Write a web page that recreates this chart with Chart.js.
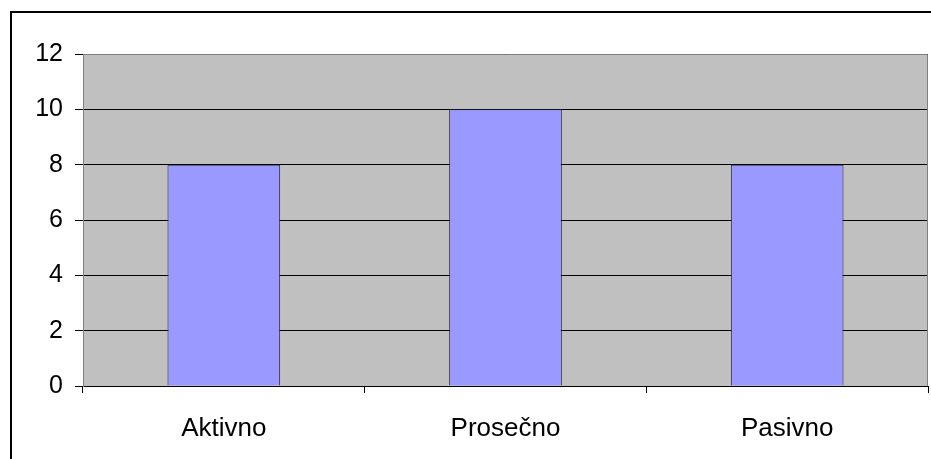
<!DOCTYPE html>
<html><head><meta charset="utf-8">
<script src="https://cdn.jsdelivr.net/npm/chart.js@4.4.0/dist/chart.umd.min.js"></script>
<style>html,body{margin:0;padding:0;background:#fff;}#wrap{width:931px;height:459px;position:relative;}</style>
</head><body><div id="wrap"><canvas id="c" width="931" height="459"></canvas></div>
<script>
const categories = ["Aktivno", "Prosečno", "Pasivno"];
const values = [8, 10, 8];
const yTicks = [0, 2, 4, 6, 8, 10, 12];

const framePlugin = {
  id: 'frame',
  beforeDraw(chart) {
    const {ctx, chartArea: a} = chart;
    ctx.save();
    ctx.fillStyle = '#fff';
    ctx.fillRect(0, 0, chart.width, chart.height);
    ctx.fillStyle = '#C0C0C0';
    ctx.fillRect(a.left, a.top, a.right - a.left, a.bottom - a.top);
    ctx.restore();
  },
  afterDraw(chart) {
    const {ctx, chartArea: a} = chart;
    ctx.save();
    ctx.strokeStyle = '#000';
    ctx.lineWidth = 2;
    ctx.beginPath();
    ctx.moveTo(11, chart.height + 5);
    ctx.lineTo(11, 12);
    ctx.lineTo(chart.width + 5, 12);
    ctx.stroke();
    ctx.strokeStyle = '#808080';
    ctx.lineWidth = 1;
    ctx.beginPath();
    ctx.moveTo(a.left, a.top + 0.5);
    ctx.lineTo(a.right - 0.5, a.top + 0.5);
    ctx.lineTo(a.right - 0.5, a.bottom);
    ctx.stroke();
    ctx.restore();
  }
};

new Chart(document.getElementById('c'), {
  type: 'bar',
  data: {
    labels: categories,
    datasets: [{
      data: values,
      backgroundColor: '#9999FF',
      borderColor: '#222244',
      borderWidth: 1,
      categoryPercentage: 0.4,
      barPercentage: 1.0
    }]
  },
  options: {
    responsive: false,
    animation: false,
    devicePixelRatio: 1,
    layout: { padding: { left: 0, top: 54, right: 3, bottom: 0 } },
    plugins: { legend: { display: false }, tooltip: { enabled: false } },
    scales: {
      x: {
        grid: { offset: true, drawOnChartArea: false, drawTicks: true, tickLength: 7, color: '#000' },
        border: { color: '#000', width: 1 },
        ticks: { color: '#000', padding: 20, font: { family: 'Liberation Sans, Arial, sans-serif', size: 26 } },
        afterFit(s) { s.height = 73; }
      },
      y: {
        min: 0, max: 12,
        afterBuildTicks(s) { s.ticks = yTicks.map(v => ({ value: v })); },
        grid: { color: '#000', tickLength: 8, drawTicks: true },
        border: { color: '#808080', width: 1 },
        ticks: { color: '#000', padding: 12, font: { family: 'Liberation Sans, Arial, sans-serif', size: 25 } },
        afterFit(s) { s.width = 83; }
      }
    }
  },
  plugins: [framePlugin]
});
</script>
</body></html>
